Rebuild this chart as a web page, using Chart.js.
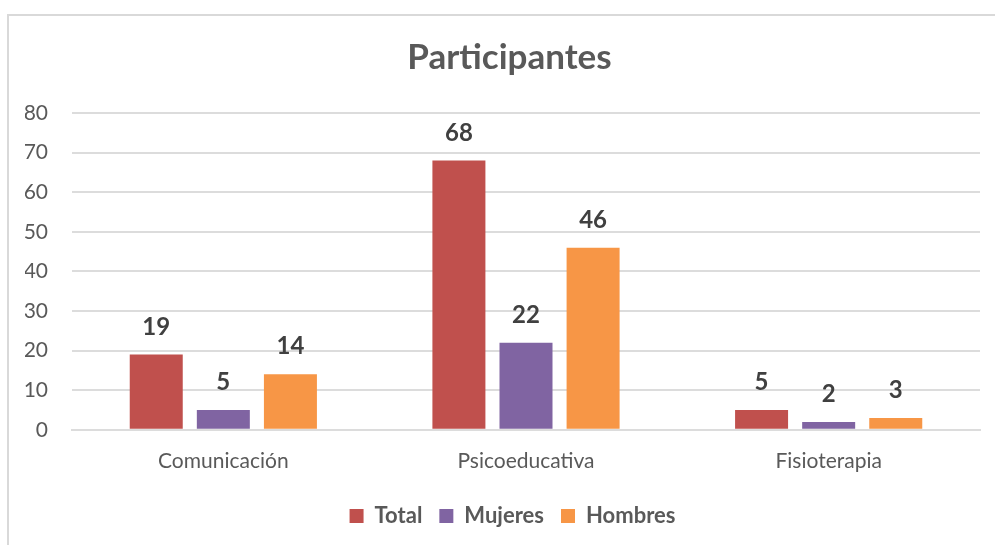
<!DOCTYPE html>
<html>
<head>
<meta charset="utf-8">
<script src="https://cdn.jsdelivr.net/npm/chart.js@4"></script>
<style>
  html, body { margin: 0; padding: 0; background: #fff; }
  #wrap { position: relative; width: 995px; height: 545px; }
  #frame { position: absolute; left: 7px; top: 14px; right: 0; bottom: 0;
           border-left: 2px solid #d9d9d9; border-top: 2px solid #d9d9d9; pointer-events: none; }
  canvas { position: absolute; left: 0; top: 0; }
</style>
</head>
<body>
<div id="wrap">
  <canvas id="chart" width="995" height="545"></canvas>
  <div id="frame"></div>
</div>
<script>
// chart data
var categories = ['Comunicación', 'Psicoeducativa', 'Fisioterapia'];
var seriesNames = ['Total', 'Mujeres', 'Hombres'];
var totalValues = [19, 68, 5];
var mujeresValues = [5, 22, 2];
var hombresValues = [14, 46, 3];
var yTicks = [0, 10, 20, 30, 40, 50, 60, 70, 80];

var colors = ['#C0504D', '#8064A2', '#F79646'];
var fontFamily = 'Lato, "Open Sans", sans-serif';

// draws the value above each bar
var valueLabels = {
    id: 'valueLabels',
    afterDatasetsDraw: function(chart) {
        var ctx = chart.ctx;
        ctx.save();
        ctx.font = 'bold 24px ' + fontFamily;
        ctx.fillStyle = '#404040';
        ctx.textAlign = 'center';
        ctx.textBaseline = 'alphabetic';
        chart.data.datasets.forEach(function(ds, i) {
            chart.getDatasetMeta(i).data.forEach(function(bar, j) {
                ctx.fillText(ds.data[j], bar.x, bar.y - 20);
            });
        });
        ctx.restore();
    }
};

// title and legend sit a bit right of centre in the original
var nudgeBlocks = {
    id: 'nudgeBlocks',
    afterLayout: function(chart) {
        if (chart.titleBlock) {
            chart.titleBlock.left += 7;
            chart.titleBlock.right += 7;
        }
        if (chart.legend) {
            chart.legend.left += 10;
            chart.legend.right += 10;
        }
    }
};

var ctx = document.getElementById('chart').getContext('2d');
new Chart(ctx, {
    type: 'bar',
    data: {
        labels: categories,
        datasets: [
            { label: seriesNames[0], data: totalValues, backgroundColor: colors[0] },
            { label: seriesNames[1], data: mujeresValues, backgroundColor: colors[1] },
            { label: seriesNames[2], data: hombresValues, backgroundColor: colors[2] }
        ]
    },
    plugins: [valueLabels, nudgeBlocks],
    options: {
        responsive: false,
        animation: false,
        devicePixelRatio: 1,
        categoryPercentage: 0.665,
        barPercentage: 0.79,
        layout: { padding: { left: 25, right: 15, top: 30, bottom: 8 } },
        plugins: {
            title: {
                display: true,
                text: 'Participantes',
                color: '#595959',
                font: { family: fontFamily, size: 35, weight: 'bold' },
                padding: { top: 7, bottom: 34 }
            },
            legend: {
                position: 'bottom',
                labels: {
                    color: '#595959',
                    boxWidth: 14,
                    boxHeight: 14,
                    padding: 17,
                    font: { family: fontFamily, size: 22, weight: 'bold' }
                }
            },
            tooltip: { enabled: false }
        },
        scales: {
            x: {
                grid: { display: false },
                border: { color: '#dcdcdc', width: 2 },
                afterFit: function(axis) {
                    axis.height += 3;
                },
                ticks: { color: '#595959', padding: 11, font: { family: fontFamily, size: 21 } }
            },
            y: {
                min: 0,
                max: 80,
                afterBuildTicks: function(axis) {
                    axis.ticks = yTicks.map(function(v) { return { value: v }; });
                },
                afterFit: function(axis) {
                    axis.width = 47;
                },
                grid: { color: '#dcdcdc', lineWidth: 2, drawTicks: false },
                border: { display: false },
                ticks: { color: '#595959', padding: 24, font: { family: fontFamily, size: 21 } }
            }
        }
    }
});
</script>
</body>
</html>
